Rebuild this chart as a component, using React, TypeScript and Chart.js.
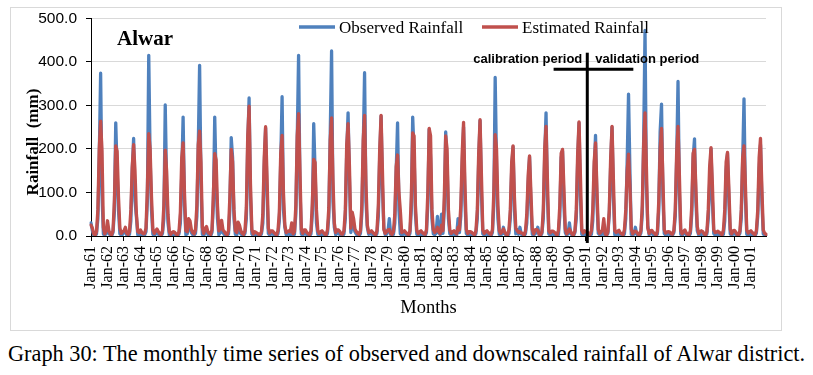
import React, { useEffect, useRef } from 'react';
import { Chart, registerables } from 'chart.js';

Chart.register(...registerables);

const MONTHS = ['Jan', 'Feb', 'Mar', 'Apr', 'May', 'Jun', 'Jul', 'Aug', 'Sep', 'Oct', 'Nov', 'Dec'];
const YEARS = ['61', '62', '63', '64', '65', '66', '67', '68', '69', '70', '71', '72', '73', '74', '75', '76', '77', '78', '79', '80',
  '81', '82', '83', '84', '85', '86', '87', '88', '89', '90', '91', '92', '93', '94', '95', '96', '97', '98', '99', '00', '01'];
const LABELS = YEARS.flatMap((y) => MONTHS.map((m) => `${m}-${y}`));

// Observed rainfall (mm), one row per year Jan..Dec, 1961-2001
const OBSERVED = [
  30, 12, 2, 0, 5, 40, 180, 374, 95, 5, 0, 8,
  20, 5, 3, 0, 8, 55, 260, 150, 60, 5, 2, 4,
  8, 15, 2, 0, 4, 35, 150, 224, 80, 45, 3, 2,
  5, 3, 0, 2, 10, 80, 415, 180, 60, 4, 0, 6,
  10, 4, 2, 0, 6, 40, 301, 120, 30, 2, 0, 3,
  6, 2, 1, 0, 5, 30, 140, 273, 70, 3, 5, 25,
  20, 8, 3, 2, 6, 45, 200, 392, 120, 4, 0, 10,
  12, 4, 2, 0, 8, 70, 273, 130, 40, 3, 8, 20,
  8, 3, 2, 0, 5, 60, 226, 180, 40, 4, 2, 15,
  10, 5, 2, 1, 6, 40, 210, 317, 90, 5, 0, 4,
  3, 2, 0, 0, 5, 30, 160, 248, 100, 6, 2, 5,
  6, 3, 1, 0, 5, 35, 170, 320, 60, 20, 3, 4,
  5, 2, 20, 0, 4, 50, 220, 415, 110, 5, 0, 8,
  6, 3, 1, 0, 5, 50, 258, 150, 30, 4, 2, 3,
  4, 2, 0, 0, 6, 45, 230, 425, 80, 20, 3, 6,
  8, 3, 1, 0, 5, 40, 190, 283, 130, 8, 30, 20,
  10, 4, 2, 0, 6, 50, 200, 375, 80, 20, 4, 5,
  5, 3, 1, 0, 6, 45, 180, 275, 110, 20, 3, 4,
  10, 40, 3, 0, 4, 30, 150, 260, 60, 5, 2, 4,
  8, 3, 1, 0, 6, 60, 273, 190, 50, 4, 2, 3,
  6, 3, 2, 0, 8, 70, 245, 180, 40, 5, 3, 6,
  45, 8, 3, 50, 6, 60, 239, 170, 40, 5, 2, 4,
  6, 3, 2, 40, 8, 45, 160, 250, 80, 6, 2, 4,
  4, 2, 1, 0, 6, 40, 170, 265, 100, 5, 2, 4,
  6, 3, 1, 0, 8, 70, 364, 160, 40, 4, 2, 5,
  20, 5, 2, 0, 6, 40, 150, 205, 60, 5, 15, 4,
  20, 4, 2, 0, 5, 30, 120, 182, 70, 4, 2, 5,
  8, 20, 2, 0, 6, 40, 180, 283, 90, 5, 2, 4,
  10, 2, 4, 0, 3, 45, 180, 195, 70, 8, 1, 6,
  30, 5, 2, 1, 8, 40, 170, 260, 90, 4, 0, 3,
  5, 8, 1, 0, 4, 35, 150, 231, 80, 6, 3, 2,
  8, 4, 3, 2, 6, 50, 160, 250, 90, 3, 2, 7,
  4, 6, 2, 0, 5, 40, 170, 326, 152, 4, 1, 5,
  20, 4, 1, 0, 7, 50, 220, 472, 120, 25, 3, 6,
  8, 2, 3, 0, 5, 60, 240, 303, 90, 6, 2, 3,
  5, 4, 1, 2, 8, 45, 173, 355, 100, 4, 1, 6,
  9, 3, 2, 0, 6, 50, 180, 223, 80, 12, 3, 4,
  4, 6, 2, 0, 5, 40, 120, 200, 80, 6, 2, 3,
  7, 3, 1, 0, 4, 35, 150, 190, 80, 5, 1, 5,
  5, 4, 2, 1, 6, 40, 170, 315, 90, 4, 2, 3,
  6, 3, 2, 0, 7, 45, 150, 210, 80, 5, 1, 0,
];

// Estimated (downscaled) rainfall (mm), one row per year Jan..Dec, 1961-2001
const ESTIMATED = [
  25, 18, 5, 2, 10, 60, 200, 264, 195, 20, 5, 12,
  35, 12, 5, 3, 12, 80, 207, 195, 90, 18, 6, 10,
  12, 20, 6, 4, 10, 60, 160, 210, 150, 52, 10, 8,
  14, 8, 5, 6, 18, 110, 235, 200, 90, 15, 6, 12,
  16, 10, 5, 3, 12, 70, 197, 150, 50, 10, 4, 8,
  10, 8, 4, 3, 10, 55, 180, 214, 100, 12, 10, 40,
  35, 15, 8, 5, 14, 70, 210, 241, 170, 20, 6, 18,
  22, 10, 6, 4, 14, 95, 189, 175, 70, 12, 18, 36,
  14, 10, 5, 3, 12, 90, 199, 170, 60, 12, 8, 32,
  25, 12, 6, 4, 12, 65, 230, 298, 120, 15, 5, 10,
  8, 6, 4, 3, 10, 50, 180, 251, 140, 18, 7, 12,
  12, 8, 5, 3, 12, 55, 190, 231, 100, 25, 8, 10,
  12, 10, 30, 5, 10, 70, 230, 281, 150, 15, 6, 14,
  14, 8, 5, 3, 12, 75, 176, 169, 60, 12, 6, 10,
  12, 8, 4, 3, 14, 65, 220, 271, 130, 30, 8, 14,
  14, 10, 5, 4, 12, 60, 210, 258, 160, 18, 55, 40,
  16, 10, 6, 4, 12, 70, 220, 277, 120, 25, 8, 10,
  12, 8, 5, 3, 12, 70, 200, 277, 150, 15, 6, 10,
  14, 15, 6, 4, 10, 50, 160, 186, 100, 59, 8, 10,
  12, 8, 5, 3, 12, 90, 237, 230, 70, 12, 6, 10,
  12, 8, 5, 4, 14, 100, 247, 230, 60, 15, 8, 12,
  20, 10, 6, 25, 12, 90, 230, 200, 60, 14, 6, 10,
  12, 8, 5, 20, 14, 70, 190, 261, 120, 15, 6, 10,
  10, 8, 5, 3, 12, 60, 190, 267, 140, 14, 6, 10,
  12, 8, 5, 4, 14, 100, 233, 200, 70, 12, 6, 10,
  16, 9, 4, 3, 14, 60, 170, 207, 90, 18, 12, 8,
  10, 7, 6, 2, 11, 50, 140, 184, 100, 15, 5, 14,
  15, 13, 4, 3, 9, 60, 200, 252, 130, 12, 7, 11,
  11, 9, 6, 2, 13, 70, 190, 199, 110, 16, 5, 9,
  16, 10, 4, 3, 11, 60, 190, 262, 140, 13, 7, 12,
  10, 8, 6, 4, 12, 60, 170, 214, 110, 15, 6, 9,
  14, 40, 5, 2, 10, 60, 180, 252, 130, 12, 8, 11,
  13, 7, 5, 3, 14, 60, 150, 188, 115, 16, 5, 10,
  11, 9, 4, 3, 12, 70, 210, 283, 160, 18, 6, 12,
  13, 8, 6, 2, 11, 80, 200, 247, 130, 14, 7, 9,
  10, 9, 5, 4, 13, 60, 190, 252, 140, 12, 5, 11,
  14, 7, 4, 3, 12, 70, 190, 199, 110, 22, 6, 10,
  12, 10, 5, 2, 10, 60, 160, 203, 120, 14, 8, 9,
  11, 8, 6, 3, 13, 60, 170, 192, 110, 15, 5, 12,
  13, 9, 4, 3, 11, 60, 180, 207, 120, 13, 7, 10,
  12, 8, 5, 3, 12, 60, 180, 224, 110, 14, 6, 4,
];

const SERIES_NAMES = ['Observed Rainfall', 'Estimated Rainfall'];
const SERIES_COLORS = ['#4f81bd', '#c0504d'];
const TITLE = 'Alwar';
const Y_TITLE = 'Rainfall  (mm)';
const X_TITLE = 'Months';
const CAPTION = 'Graph 30: The monthly time series of observed and downscaled rainfall of Alwar district.';
const CALIB_TEXT = 'calibration period';
const VALID_TEXT = 'validation period';
// annotation cross, in data units (month index, mm)
const CROSS_X = 361;
const CROSS_TOP = 421;
const CROSS_BOTTOM = -16;
const CROSS_H_FROM = 336.5;
const CROSS_H_TO = 394.5;
const CROSS_H_Y = 383;
const PERIOD_TEXT_Y = 405;

const SERIF = '"Liberation Serif", "Times New Roman", serif';
const SANS = '"Liberation Sans", Arial, sans-serif';

const overlayPlugin = {
  id: 'overlay',
  afterDraw(chart: any) {
    const ctx = chart.ctx;
    const xs = chart.scales.x;
    const ys = chart.scales.y;
    ctx.save();
    ctx.fillStyle = '#000';
    // Title
    ctx.font = `bold 21px ${SERIF}`;
    ctx.textAlign = 'left';
    ctx.textBaseline = 'alphabetic';
    ctx.fillText(TITLE, 117, 45);
    // Legend
    const legend = [
      { x: 299, text: SERIES_NAMES[0], color: SERIES_COLORS[0] },
      { x: 482, text: SERIES_NAMES[1], color: SERIES_COLORS[1] },
    ];
    ctx.font = `17px ${SERIF}`;
    legend.forEach((l) => {
      ctx.strokeStyle = l.color;
      ctx.lineWidth = 3.5;
      ctx.beginPath();
      ctx.moveTo(l.x, 27);
      ctx.lineTo(l.x + 36, 27);
      ctx.stroke();
      ctx.fillStyle = '#000';
      ctx.fillText(l.text, l.x + 40, 33);
    });
    // Period annotation
    ctx.strokeStyle = '#000';
    ctx.lineWidth = 3;
    const vx = xs.getPixelForValue(CROSS_X);
    ctx.beginPath();
    ctx.moveTo(vx, ys.getPixelForValue(CROSS_TOP));
    ctx.lineTo(vx, ys.getPixelForValue(CROSS_BOTTOM));
    ctx.stroke();
    const hy = ys.getPixelForValue(CROSS_H_Y);
    ctx.beginPath();
    ctx.moveTo(xs.getPixelForValue(CROSS_H_FROM), hy);
    ctx.lineTo(xs.getPixelForValue(CROSS_H_TO), hy);
    ctx.stroke();
    ctx.font = `bold 13px ${SANS}`;
    ctx.textBaseline = 'middle';
    const ty = ys.getPixelForValue(PERIOD_TEXT_Y);
    ctx.textAlign = 'right';
    ctx.fillText(CALIB_TEXT, vx - 5, ty);
    ctx.textAlign = 'left';
    ctx.fillText(VALID_TEXT, vx + 8, ty);
    ctx.restore();
  },
};

export default function App() {
  const canvasRef = useRef<HTMLCanvasElement | null>(null);

  useEffect(() => {
    if (!canvasRef.current) return;
    const chart = new Chart(canvasRef.current, {
      type: 'line',
      data: {
        labels: LABELS,
        datasets: [
          {
            label: SERIES_NAMES[0],
            data: OBSERVED,
            borderColor: SERIES_COLORS[0],
            backgroundColor: SERIES_COLORS[0],
            borderWidth: 3.3,
            borderJoinStyle: 'round',
            borderCapStyle: 'round',
            pointRadius: 0,
            tension: 0,
            order: 2,
          },
          {
            label: SERIES_NAMES[1],
            data: ESTIMATED,
            borderColor: SERIES_COLORS[1],
            backgroundColor: SERIES_COLORS[1],
            borderWidth: 3.3,
            borderJoinStyle: 'round',
            borderCapStyle: 'round',
            pointRadius: 0,
            tension: 0,
            order: 1,
          },
        ],
      },
      options: {
        animation: false,
        responsive: false,
        maintainAspectRatio: false,
        events: [],
        layout: { padding: { top: 16, right: 47, left: 0, bottom: 0 } },
        plugins: {
          legend: { display: false },
          tooltip: { enabled: false },
        },
        scales: {
          x: {
            type: 'category',
            offset: false,
            afterFit: (s: any) => { s.height = 100; },
            grid: { drawOnChartArea: false, drawTicks: true, tickLength: 5, tickColor: '#000' },
            border: { color: '#000', width: 1 },
            ticks: {
              autoSkip: false,
              minRotation: 90,
              maxRotation: 90,
              padding: 5,
              color: '#000',
              font: { family: SERIF, size: 16 },
              callback: (_v: any, i: number) => (i % 12 === 0 ? LABELS[i] : null),
            },
            title: {
              display: true,
              text: X_TITLE,
              color: '#000',
              font: { family: SERIF, size: 18.5 },
              padding: { top: 0, bottom: 17 },
            },
          },
          y: {
            min: 0,
            max: 500,
            afterFit: (s: any) => { s.width = 91; },
            grid: { color: '#d9d9d9', tickColor: '#000', tickLength: 5 },
            border: { color: '#000', width: 1 },
            ticks: {
              stepSize: 100,
              padding: 9,
              color: '#000',
              font: { family: SANS, size: 15.5 },
              callback: (v: any) => Number(v).toFixed(1),
            },
            title: {
              display: true,
              text: Y_TITLE + '       ',
              color: '#000',
              font: { family: SERIF, size: 17, weight: 'bold' },
              padding: { top: 23, bottom: 0 },
            },
          },
        },
      },
      plugins: [overlayPlugin],
    } as any);
    return () => chart.destroy();
  }, []);

  return (
    <div style={{ position: 'absolute', left: 0, top: 0, width: 813, height: 375, background: '#fff' }}>
      <canvas ref={canvasRef} width={813} height={336} style={{ position: 'absolute', left: 0, top: 0, width: 813, height: 336 }} />
      <div style={{ position: 'absolute', left: 10, top: 7, width: 772, height: 324, border: '1px solid #d9d9d9', boxSizing: 'border-box', pointerEvents: 'none' }} />
      <div style={{ position: 'absolute', left: 8, top: 341, fontFamily: SERIF, fontSize: 22.3, lineHeight: '26px', whiteSpace: 'nowrap', color: '#000' }}>
        {CAPTION}
      </div>
    </div>
  );
}
